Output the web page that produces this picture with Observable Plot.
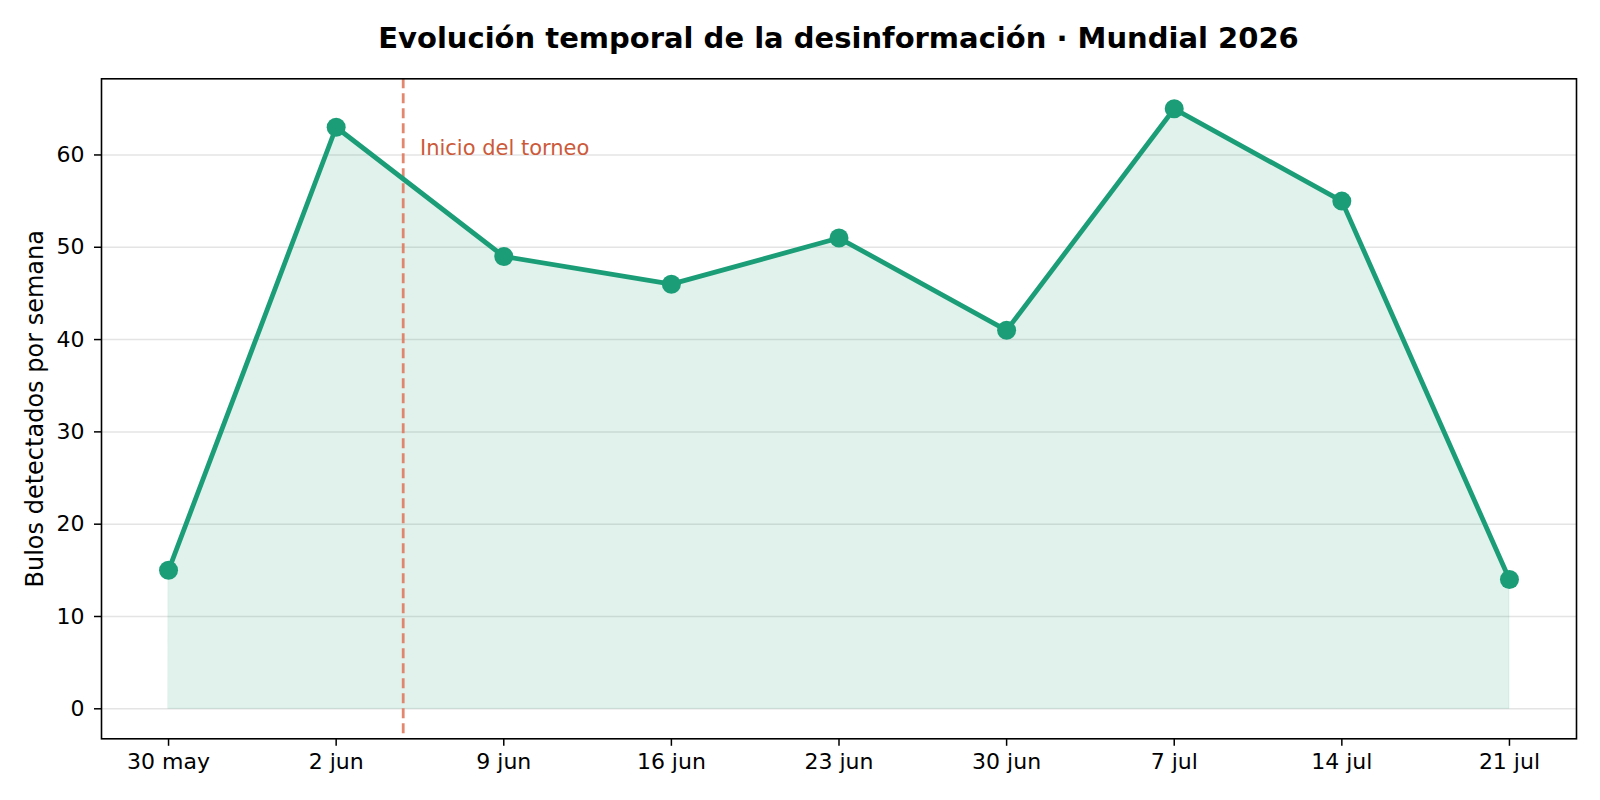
<!DOCTYPE html>
<html>
<head>
<meta charset="utf-8">
<script src="https://cdn.jsdelivr.net/npm/d3@7"></script>
<script src="https://cdn.jsdelivr.net/npm/@observablehq/plot@0.6"></script>
<style>
  html, body { margin: 0; padding: 0; background: #fff; }
  #wrap { width: 1600px; height: 800px; overflow: hidden; font-family: "DejaVu Sans", sans-serif; }
  #title { box-sizing: border-box; height: 70px; padding: 24px 24px 0 101px; text-align: center;
           font-size: 29px; line-height: 29px; font-weight: bold; color: #000; }
  svg { display: block; }
</style>
</head>
<body>
<div id="wrap">
  <div id="title">Evolución temporal de la desinformación · Mundial 2026</div>
  <div id="chart"></div>
</div>
<script>
const weeks = ["30 may", "2 jun", "9 jun", "16 jun", "23 jun", "30 jun", "7 jul", "14 jul", "21 jul"];
const bulos = [15, 63, 49, 46, 51, 41, 65, 55, 14];
const yTicks = [0, 10, 20, 30, 40, 50, 60];
const tournamentStart = 1.4;
const annotation = {x: 1.5, y: 60, text: "Inicio del torneo"};
const yLabel = "Bulos detectados por semana";

const data = weeks.map((w, i) => ({i, week: w, v: bulos[i]}));
const green = "#1b9e77";
const font = "DejaVu Sans";

const chart = Plot.plot({
  width: 1600,
  height: 730,
  marginTop: 8.3,
  marginBottom: 61.7,
  marginLeft: 101,
  marginRight: 24,
  style: {fontFamily: font, background: "#fff", color: "#000", overflow: "visible"},
  x: {domain: [-0.4, 8.4]},
  y: {domain: [-3.25, 68.25]},
  marks: [
    Plot.gridY(yTicks, {stroke: "#d9d9d9", strokeOpacity: 0.7, strokeWidth: 1.5}),
    Plot.areaY(data, {x: "i", y: "v", fill: green, fillOpacity: 0.13, stroke: green, strokeOpacity: 0.1, strokeWidth: 1}),
    Plot.ruleX([tournamentStart], {stroke: "#E07A5F", strokeOpacity: 0.9, strokeWidth: 2.8, strokeDasharray: "10,5"}),
    Plot.line(data, {x: "i", y: "v", stroke: green, strokeWidth: 4.8, strokeLinejoin: "round"}),
    Plot.dot(data, {x: "i", y: "v", fill: green, r: 9.5}),
    Plot.text([annotation], {x: "x", y: "y", text: "text", textAnchor: "start", lineAnchor: "bottom",
      fill: "#cc5a3a", fontSize: 21, fontFamily: font}),
    Plot.axisX(d3.range(weeks.length), {tickFormat: (d) => weeks[d], tickSize: 7.5, tickPadding: 7,
      fontSize: 22, fontFamily: font, label: null, stroke: "#000", strokeWidth: 1.5}),
    Plot.axisY(yTicks, {tickSize: 7, tickPadding: 10, fontSize: 22, fontFamily: font, label: null,
      stroke: "#000", strokeWidth: 1.5}),
    Plot.text([yLabel], {frameAnchor: "left", textAnchor: "middle", lineAnchor: "middle", dx: -66, rotate: -90,
      fontSize: 24, fontFamily: font, fill: "#000"}),
    Plot.frame({stroke: "#000", strokeWidth: 1.6})
  ]
});
document.getElementById("chart").appendChild(chart);
</script>
</body>
</html>
